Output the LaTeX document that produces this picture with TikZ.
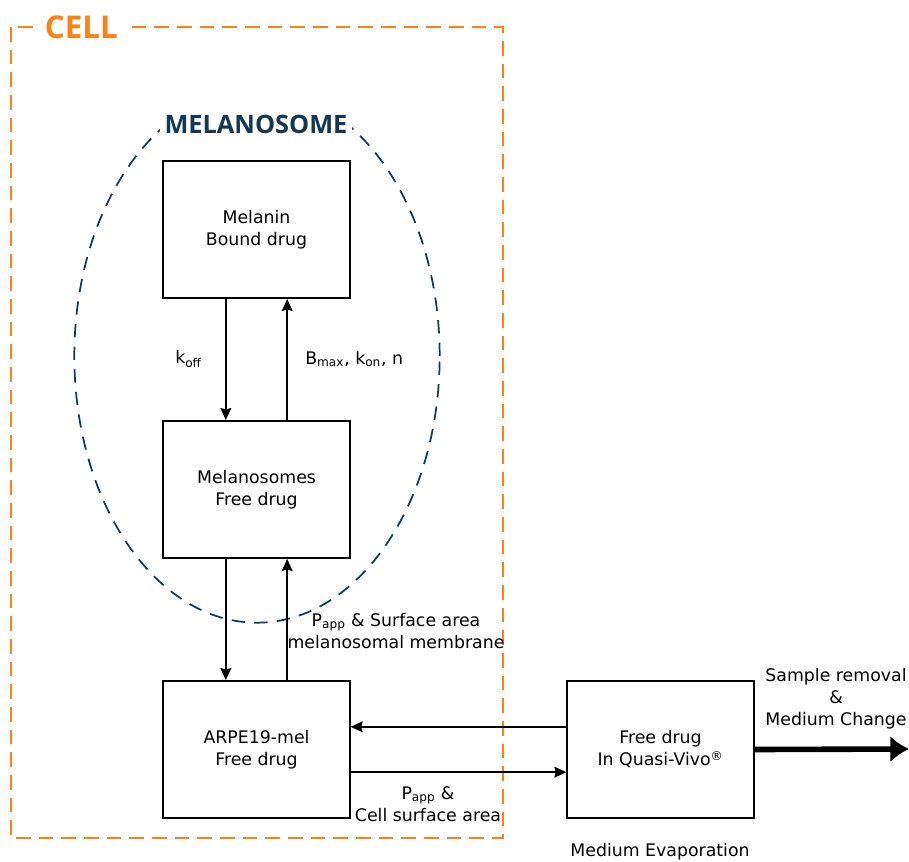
\documentclass[tikz,border=0pt]{standalone}
\usepackage{fontspec}
\setmainfont{DejaVu Sans}
\newfontfamily\headfont{Open Sans}
\usetikzlibrary{arrows.meta}
\definecolor{cellorange}{RGB}{252,130,20}
\definecolor{melnavy}{RGB}{20,55,85}

\begin{document}
\begin{tikzpicture}[x=0.75pt,y=-0.75pt,font=\fontsize{13}{16.5}\selectfont,
  box/.style={draw,line width=1.1pt,minimum width=140pt,minimum height=103pt,align=center},
  flow/.style={-{Stealth[length=9pt,width=8pt,inset=1pt]},line width=1.4pt},
  lab/.style={align=center,inner sep=0pt}]
  \useasboundingbox (0,0) rectangle (909,861);
  % cell and melanosome outlines
  \draw[cellorange,line width=1.6pt,dash pattern=on 11pt off 6pt] (11,27) rectangle (503,838);
  \draw[melnavy,line width=1.3pt,dash pattern=on 10pt off 7pt] (257,356) ellipse [x radius=137pt,y radius=200pt];
  \node (cell) [anchor=base west,fill=white,text=cellorange,inner xsep=5pt,
    font=\headfont\bfseries\fontsize{23.5}{24}\selectfont] at (38,38) {CELL};
  \node (melhead) [anchor=base,fill=white,text=melnavy,inner sep=0pt,minimum width=144pt,
    text height=34pt,text depth=3pt,font=\headfont\bfseries\fontsize{19}{19}\selectfont] at (256,133) {MELANOSOME};
  % compartments
  \node (melanin) [box] at (256.5,229.5) {Melanin\\Bound drug};
  \node (melsome) [box] at (256.5,489.5) {Melanosomes\\Free drug};
  \node (arpe) [box] at (256.5,749.5) {ARPE19-mel\\Free drug};
  \node (qv) [box] at (660.5,749.5) {Free drug\\In Quasi-Vivo\textsuperscript{®}};
  \coordinate (sink) at (909,749);
  % transfers
  \draw[flow] ([xshift=-23pt]melanin.south) -- ([xshift=-23pt]melsome.north);
  \draw[flow] ([xshift=23pt]melsome.north) -- ([xshift=23pt]melanin.south);
  \draw[flow] ([xshift=-23pt]melsome.south) -- ([xshift=-23pt]arpe.north);
  \draw[flow] ([xshift=23pt]arpe.north) -- ([xshift=23pt]melsome.south);
  \draw[flow] ([yshift=17pt]qv.west) -- ([yshift=17pt]arpe.east);
  \draw[flow] ([yshift=-17pt]arpe.east) -- ([yshift=-17pt]qv.west);
  \draw[-{Latex[length=14pt,width=20pt]},line width=4.2pt] (qv.east) -- (sink);
  % labels
  \node (koff) [lab,anchor=west] at (175,359) {k\textsubscript{off}};
  \node (kon) [lab,anchor=west] at (305,359) {B\textsubscript{max}, k\textsubscript{on}, n};
  \node (pmem) [lab] at (396,631) {P\textsubscript{app} \& Surface area\\melanosomal membrane};
  \node (pcell) [lab] at (428,804) {P\textsubscript{app} \&\\Cell surface area};
  \node (sample) [lab] at (836,699) {Sample removal\\\&\\Medium Change};
  \node (evap) [lab] at (660,852) {Medium Evaporation};
\end{tikzpicture}
\end{document}
